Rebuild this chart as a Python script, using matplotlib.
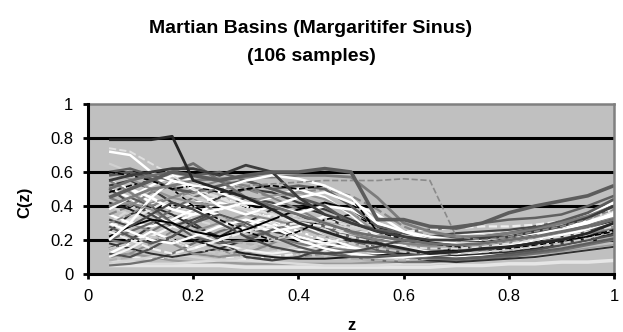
import matplotlib
matplotlib.use("Agg")
import matplotlib.pyplot as plt

plt.rcParams['font.family'] = ['Liberation Sans', 'DejaVu Sans']

TITLE_LINES = ["Martian Basins (Margaritifer Sinus)", "(106 samples)"]
X_LABEL = "z"
Y_LABEL = "C(z)"
X_TICKS = [0, 0.2, 0.4, 0.6, 0.8, 1]
X_TICK_LABELS = ["0", "0.2", "0.4", "0.6", "0.8", "1"]
Y_TICKS = [0, 0.2, 0.4, 0.6, 0.8, 1]
Y_TICK_LABELS = ["0", "0.2", "0.4", "0.6", "0.8", "1"]

Z = [0.04, 0.08, 0.12, 0.16, 0.2, 0.25, 0.3, 0.35, 0.4, 0.45, 0.5,
     0.55, 0.6, 0.65, 0.7, 0.75, 0.8, 0.85, 0.9, 0.95, 1.0]

s11 = [0.05,0.05,0.05,0.05,0.05,0.05,0.04,0.04,0.04,0.04,0.04,0.04,0.04,0.04,0.05,0.05,0.06,0.06,0.07,0.07,0.08]
s12 = [0.10,0.12,0.10,0.08,0.07,0.07,0.06,0.06,0.06,0.06,0.06,0.07,0.07,0.08,0.09,0.10,0.11,0.12,0.13,0.15,0.17]
s42 = [0.08,0.07,0.06,0.06,0.07,0.08,0.08,0.07,0.06,0.05,0.05,0.05,0.06,0.06,0.07,0.08,0.09,0.10,0.12,0.14,0.16]
s43 = [0.12,0.10,0.09,0.10,0.12,0.10,0.09,0.10,0.12,0.14,0.12,0.10,0.09,0.09,0.10,0.12,0.13,0.15,0.17,0.20,0.24]
s54 = [0.06,0.08,0.10,0.12,0.10,0.08,0.10,0.13,0.16,0.15,0.12,0.10,0.09,0.10,0.11,0.12,0.14,0.16,0.19,0.22,0.26]
s33 = [0.05,0.06,0.08,0.12,0.18,0.25,0.30,0.28,0.22,0.15,0.10,0.08,0.07,0.07,0.08,0.09,0.10,0.12,0.14,0.17,0.20]
s21 = [0.18,0.15,0.12,0.10,0.12,0.15,0.20,0.25,0.22,0.18,0.15,0.12,0.10,0.08,0.07,0.08,0.09,0.10,0.12,0.14,0.16]
s23 = [0.08,0.10,0.15,0.20,0.22,0.20,0.18,0.15,0.12,0.10,0.09,0.08,0.08,0.09,0.10,0.11,0.12,0.14,0.16,0.19,0.22]
s51 = [0.10,0.12,0.18,0.25,0.20,0.14,0.10,0.09,0.10,0.12,0.14,0.15,0.16,0.17,0.18,0.19,0.20,0.22,0.24,0.27,0.31]
s13 = [0.15,0.20,0.28,0.35,0.30,0.20,0.10,0.08,0.10,0.15,0.20,0.18,0.12,0.10,0.10,0.12,0.14,0.15,0.18,0.22,0.28]
s14 = [0.35,0.30,0.25,0.18,0.12,0.10,0.12,0.18,0.25,0.30,0.28,0.22,0.18,0.15,0.13,0.12,0.14,0.16,0.20,0.24,0.30]
s46 = [0.40,0.35,0.30,0.35,0.40,0.32,0.25,0.20,0.18,0.20,0.22,0.18,0.15,0.14,0.15,0.17,0.19,0.21,0.23,0.26,0.30]
s15 = [0.50,0.45,0.35,0.30,0.35,0.42,0.38,0.30,0.22,0.18,0.15,0.12,0.10,0.09,0.10,0.11,0.13,0.16,0.20,0.24,0.29]
s47 = [0.20,0.18,0.25,0.32,0.38,0.30,0.22,0.25,0.30,0.26,0.20,0.16,0.14,0.13,0.13,0.14,0.16,0.18,0.21,0.24,0.27]
s16 = [0.25,0.35,0.40,0.35,0.28,0.22,0.30,0.38,0.40,0.35,0.25,0.20,0.15,0.12,0.11,0.12,0.13,0.15,0.17,0.20,0.24]
s48 = [0.12,0.18,0.25,0.20,0.15,0.20,0.28,0.35,0.30,0.22,0.16,0.12,0.11,0.12,0.14,0.16,0.18,0.20,0.22,0.25,0.28]
s17 = [0.45,0.40,0.48,0.52,0.45,0.35,0.28,0.22,0.18,0.15,0.14,0.13,0.13,0.14,0.15,0.16,0.18,0.20,0.24,0.28,0.33]
s18 = [0.30,0.38,0.45,0.40,0.32,0.28,0.25,0.30,0.35,0.32,0.28,0.24,0.22,0.20,0.21,0.22,0.24,0.26,0.29,0.32,0.37]
s49 = [0.50,0.42,0.35,0.28,0.32,0.38,0.45,0.42,0.35,0.28,0.22,0.19,0.18,0.18,0.19,0.20,0.21,0.23,0.26,0.30,0.34]
s19 = [0.12,0.10,0.15,0.22,0.30,0.38,0.42,0.40,0.35,0.28,0.20,0.15,0.12,0.10,0.09,0.10,0.12,0.14,0.17,0.20,0.23]
s20 = [0.55,0.50,0.42,0.38,0.42,0.45,0.40,0.32,0.25,0.20,0.18,0.16,0.17,0.19,0.20,0.21,0.22,0.24,0.27,0.30,0.34]
s50 = [0.28,0.32,0.38,0.45,0.50,0.45,0.38,0.32,0.28,0.26,0.24,0.22,0.21,0.21,0.22,0.24,0.26,0.28,0.31,0.34,0.37]
s22 = [0.40,0.42,0.38,0.30,0.25,0.30,0.35,0.32,0.28,0.22,0.18,0.15,0.14,0.14,0.15,0.17,0.19,0.22,0.25,0.30,0.36]
s24 = [0.52,0.55,0.50,0.42,0.38,0.45,0.50,0.48,0.42,0.38,0.32,0.25,0.20,0.18,0.17,0.18,0.20,0.23,0.26,0.30,0.35]
s25 = [0.10,0.15,0.22,0.28,0.25,0.18,0.14,0.12,0.14,0.18,0.22,0.20,0.16,0.13,0.12,0.13,0.15,0.18,0.21,0.25,0.30]
s52 = [0.35,0.30,0.28,0.32,0.38,0.35,0.30,0.25,0.28,0.34,0.30,0.24,0.20,0.20,0.22,0.24,0.25,0.26,0.28,0.31,0.35]
s26 = [0.35,0.40,0.48,0.55,0.58,0.56,0.50,0.45,0.48,0.50,0.46,0.38,0.28,0.22,0.19,0.18,0.19,0.21,0.24,0.28,0.32]
s27 = [0.42,0.38,0.32,0.25,0.20,0.15,0.12,0.10,0.09,0.09,0.10,0.11,0.12,0.13,0.14,0.15,0.17,0.19,0.22,0.26,0.31]
s55 = [0.38,0.45,0.40,0.30,0.22,0.18,0.20,0.26,0.32,0.28,0.20,0.14,0.10,0.09,0.09,0.10,0.11,0.13,0.15,0.18,0.21]
s28 = [0.20,0.25,0.30,0.38,0.45,0.50,0.45,0.38,0.30,0.25,0.22,0.20,0.19,0.19,0.20,0.22,0.25,0.28,0.31,0.35,0.40]
s30 = [0.30,0.25,0.20,0.18,0.22,0.28,0.32,0.28,0.20,0.15,0.12,0.10,0.10,0.11,0.13,0.15,0.17,0.20,0.23,0.26,0.30]
s31 = [0.65,0.60,0.55,0.50,0.45,0.40,0.38,0.35,0.32,0.30,0.27,0.25,0.23,0.22,0.22,0.23,0.25,0.27,0.30,0.34,0.38]
s32 = [0.48,0.52,0.55,0.50,0.40,0.32,0.25,0.20,0.25,0.32,0.35,0.28,0.20,0.16,0.14,0.14,0.15,0.17,0.19,0.22,0.26]
s34 = [0.38,0.45,0.52,0.58,0.55,0.48,0.42,0.45,0.50,0.45,0.35,0.22,0.18,0.17,0.17,0.18,0.20,0.22,0.25,0.29,0.34]
s53 = [0.60,0.56,0.50,0.45,0.42,0.40,0.42,0.46,0.48,0.44,0.36,0.24,0.18,0.16,0.15,0.15,0.16,0.18,0.21,0.24,0.28]
s35 = [0.28,0.22,0.18,0.22,0.30,0.35,0.30,0.22,0.16,0.12,0.10,0.10,0.11,0.12,0.13,0.14,0.16,0.18,0.21,0.25,0.30]
s36 = [0.15,0.18,0.22,0.20,0.15,0.12,0.15,0.20,0.24,0.22,0.18,0.15,0.13,0.12,0.12,0.13,0.14,0.16,0.18,0.21,0.25]
s37 = [0.55,0.48,0.40,0.45,0.50,0.55,0.52,0.45,0.38,0.30,0.24,0.20,0.18,0.17,0.17,0.18,0.20,0.22,0.25,0.29,0.33]
s38 = [0.22,0.28,0.32,0.30,0.25,0.22,0.26,0.32,0.38,0.42,0.38,0.28,0.22,0.19,0.18,0.19,0.20,0.22,0.25,0.28,0.32]
s39 = [0.45,0.50,0.45,0.38,0.35,0.38,0.42,0.40,0.36,0.40,0.38,0.30,0.24,0.21,0.20,0.21,0.23,0.26,0.30,0.35,0.42]
s40 = [0.60,0.62,0.58,0.55,0.58,0.60,0.55,0.50,0.52,0.50,0.40,0.28,0.25,0.26,0.28,0.30,0.32,0.33,0.35,0.40,0.46]
s44 = [0.32,0.28,0.35,0.42,0.38,0.30,0.22,0.16,0.13,0.12,0.13,0.16,0.20,0.22,0.24,0.25,0.26,0.28,0.30,0.34,0.38]
s45 = [0.25,0.20,0.15,0.12,0.15,0.20,0.25,0.28,0.30,0.28,0.25,0.24,0.25,0.26,0.27,0.28,0.28,0.29,0.31,0.34,0.38]
s29 = [0.58,0.60,0.56,0.50,0.48,0.52,0.55,0.50,0.45,0.40,0.30,0.26,0.24,0.22,0.21,0.22,0.24,0.27,0.31,0.36,0.44]
s10 = [0.20,0.30,0.45,0.55,0.50,0.40,0.35,0.40,0.45,0.48,0.42,0.35,0.25,0.20,0.18,0.18,0.20,0.22,0.28,0.30,0.35]
s9  = [0.60,0.58,0.55,0.50,0.52,0.48,0.50,0.52,0.50,0.52,0.45,0.25,0.20,0.18,0.16,0.15,0.16,0.18,0.20,0.22,0.25]
s8  = [0.40,0.45,0.50,0.52,0.55,0.56,0.57,0.57,0.58,0.58,0.57,0.45,0.30,0.25,0.22,0.22,0.24,0.26,0.30,0.34,0.40]
s7  = [0.74,0.72,0.65,0.58,0.50,0.45,0.40,0.35,0.30,0.25,0.22,0.18,0.16,0.15,0.15,0.16,0.18,0.20,0.22,0.25,0.28]
s6  = [0.72,0.70,0.60,0.55,0.52,0.50,0.55,0.58,0.56,0.52,0.45,0.30,0.25,0.22,0.20,0.20,0.22,0.24,0.26,0.30,0.36]
s5  = [0.50,0.55,0.58,0.60,0.65,0.55,0.45,0.40,0.35,0.30,0.25,0.22,0.20,0.18,0.17,0.18,0.20,0.22,0.25,0.28,0.32]
s4  = [0.55,0.58,0.60,0.62,0.62,0.58,0.64,0.60,0.45,0.35,0.30,0.25,0.22,0.20,0.20,0.21,0.22,0.25,0.28,0.33,0.40]
s3  = [0.30,0.35,0.42,0.45,0.48,0.50,0.52,0.53,0.54,0.55,0.55,0.55,0.56,0.55,0.22,0.20,0.22,0.25,0.28,0.32,0.38]
s2  = [0.45,0.50,0.55,0.60,0.58,0.55,0.58,0.60,0.60,0.62,0.60,0.32,0.32,0.28,0.27,0.30,0.36,0.40,0.43,0.46,0.52]
s1  = [0.79,0.79,0.79,0.81,0.55,0.50,0.45,0.38,0.30,0.25,0.20,0.18,0.15,0.12,0.13,0.15,0.16,0.18,0.20,0.24,0.30]

SERIES = [s11, s12, s42, s43, s54, s33, s21, s23, s51, s13, s14, s46, s15,
          s47, s16, s48, s17, s18, s49, s19, s20, s50, s22, s24, s25, s52,
          s26, s27, s55, s28, s30, s31, s32, s34, s53, s35, s36, s37, s38,
          s39, s40, s44, s45, s29, s10, s9, s8, s7, s6, s5, s4, s3, s2, s1]

COLORS = ['#e6e6e6', '#9a9a9a', '#dcdcdc', '#f0f0f0', '#d4d4d4', '#707070',
          '#303030', '#b0b0b0', '#8e8e8e', '#404040', '#8c8c8c', '#cfcfcf',
          '#ffffff', '#787878', '#2a2a2a', '#ffffff', '#7a7a7a', '#d8d8d8',
          '#4a4a4a', '#505050', '#ffffff', '#e4e4e4', '#909090', '#3a3a3a',
          '#f4f4f4', '#ffffff', '#888888', '#1c1c1c', '#5e5e5e', '#686868',
          '#ffffff', '#d0d0d0', '#000000', '#ffffff', '#969696', '#585858',
          '#c8c8c8', '#828282', '#000000', '#ffffff', '#606060', '#484848',
          '#eeeeee', '#5a5a5a', '#ffffff', '#000000', '#7c7c7c', '#e0e0e0',
          '#ffffff', '#6e6e6e', '#3c3c3c', '#8a8a8a', '#5c5c5c', '#262626']
STYLES = ['-', '-', '-', '--', '-', '-', '-', '--', '--', '-', '-', '-',
          '-', '-', '-', '-', '-', '--', '-', '-', '--', '-', '-', '-',
          '-', '-', '--', '-', '-', '-', '-', '-', '--', '-', '-', '-',
          '--', '-', '-', '-', '-', '-', '--', '-', '-', '--', '-', '--',
          '-', '-', '-', '--', '-', '-']
WIDTHS = [2.5, 1.6, 1.8, 1.6, 1.6, 1.6, 1.4, 1.6, 1.4, 1.6, 1.6, 1.6,
          1.8, 1.6, 1.4, 1.8, 1.6, 1.6, 1.6, 1.6, 1.6, 1.8, 1.6, 1.6,
          1.6, 1.8, 1.6, 1.4, 1.6, 1.6, 1.8, 1.6, 1.2, 1.8, 1.6, 1.6,
          1.4, 1.6, 1.4, 2.0, 1.8, 1.6, 1.6, 2.0, 1.8, 1.2, 2.0, 1.4,
          1.8, 2.0, 2.0, 1.2, 2.6, 2.0]

fig = plt.figure(figsize=(6.23, 3.32), dpi=100)
ax = fig.add_axes([0.1413, 0.1747, 0.8443, 0.512])
ax.set_facecolor('#c0c0c0')

for yv in Y_TICKS[1:-1]:
    ax.axhline(yv, color='black', lw=2.2, zorder=1)

for s, c, ls, w in zip(SERIES, COLORS, STYLES, WIDTHS):
    ax.plot(Z, s, color=c, ls=ls, lw=w, zorder=2, solid_capstyle='butt')

ax.set_xlim(0, 1)
ax.set_ylim(0, 1)
ax.set_xticks(X_TICKS)
ax.set_xticklabels(X_TICK_LABELS)
ax.set_yticks(Y_TICKS)
ax.set_yticklabels(Y_TICK_LABELS)
ax.tick_params(axis='both', direction='out', length=3.6, width=2, labelsize=12,
               color='black')
ax.tick_params(axis='x', pad=7)
ax.tick_params(axis='y', pad=7)

for side in ['top', 'right']:
    ax.spines[side].set_color('#808080')
    ax.spines[side].set_linewidth(1.8)
for side in ['left', 'bottom']:
    ax.spines[side].set_color('black')
    ax.spines[side].set_linewidth(2.2)
    ax.spines[side].set_zorder(5)

fig.text(352 / 623, 1 - 330.5 / 332, X_LABEL, ha='center', va='baseline',
         fontsize=12, fontweight='bold')
fig.text(25 / 623, 1 - 202 / 332, Y_LABEL, ha='center', va='center',
         rotation=90, fontsize=12, fontweight='bold')
fig.text(311 / 623, 1 - 33 / 332, TITLE_LINES[0], ha='center', va='baseline',
         fontsize=14, fontweight='bold')
fig.text(311 / 623, 1 - 61 / 332, TITLE_LINES[1], ha='center', va='baseline',
         fontsize=14, fontweight='bold')

fig.savefig('out.png', dpi=100)
